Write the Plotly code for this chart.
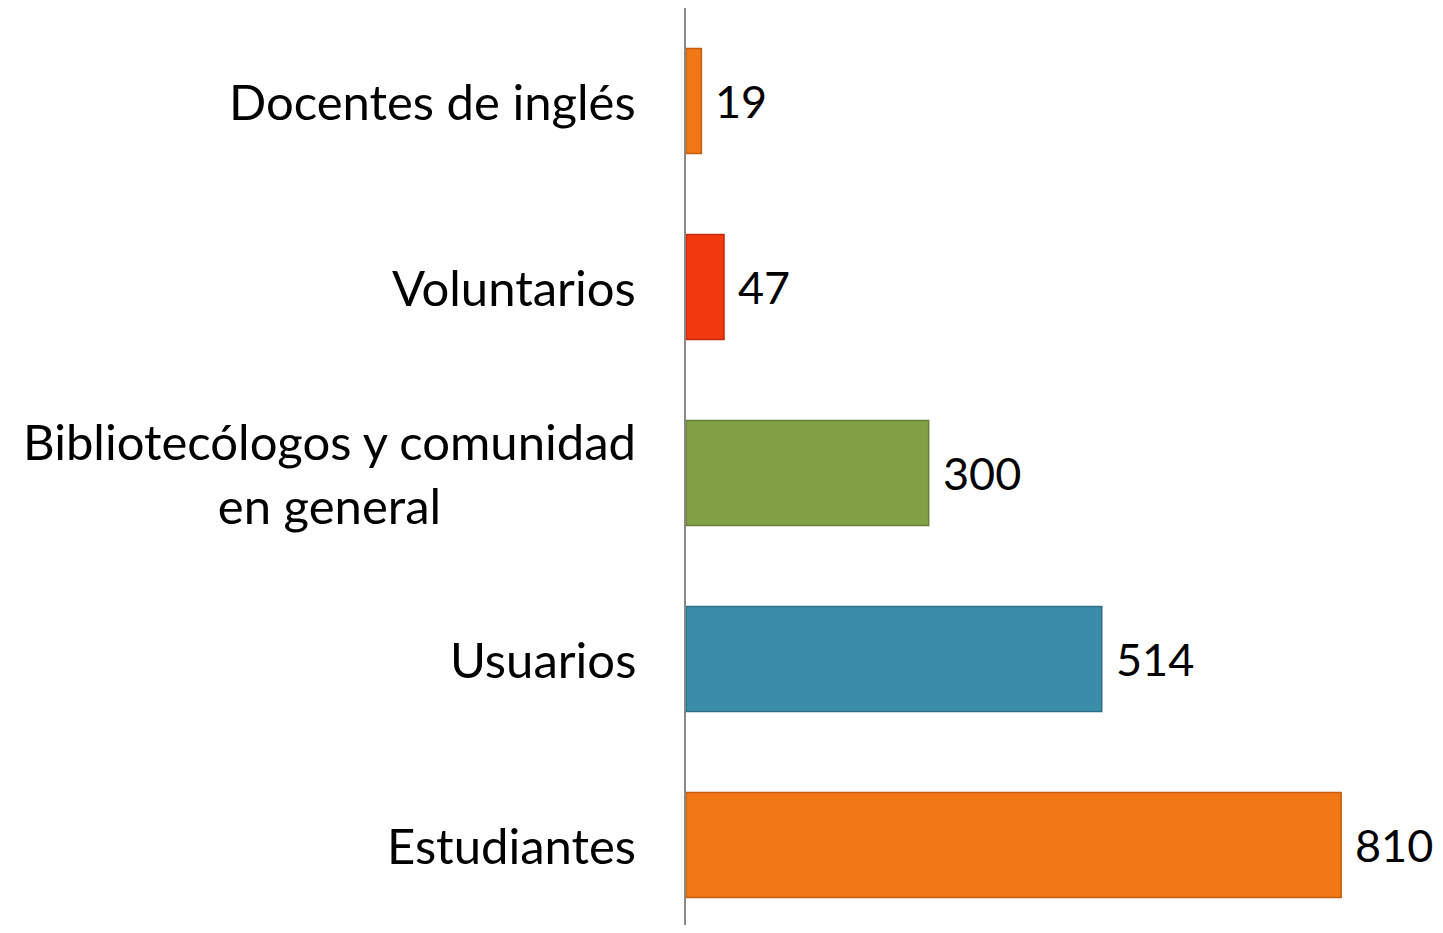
import plotly.graph_objects as go

categories = ["Estudiantes", "Usuarios", "Bibliotecólogos y comunidad<br>en general", "Voluntarios", "Docentes de inglés"]
values = [810, 514, 300, 47, 19]
colors = ["#F27716", "#3A8CA8", "#82A045", "#F2380E", "#F27716"]
edge_colors = ["#C45E0E", "#2C6F86", "#66803A", "#C22A08", "#C45E0E"]

FONT = "Lato, Calibri, Carlito, sans-serif"

fig = go.Figure()
fig.add_trace(go.Bar(
    y=list(range(len(categories))),
    x=values,
    orientation="h",
    marker=dict(color=colors, line=dict(color=edge_colors, width=1.5)),
    width=0.565,
    hoverinfo="skip",
))

annotations = []
for i, (c, v) in enumerate(zip(categories, values)):
    annotations.append(dict(
        x=0, y=i, xref="x", yref="y", text=c, showarrow=False,
        xanchor="right", yanchor="middle", align="center", xshift=-48,
        font=dict(family=FONT, size=49, color="#000000"),
    ))
    annotations.append(dict(
        x=v, y=i, xref="x", yref="y", text=str(v), showarrow=False,
        xanchor="left", yanchor="middle", xshift=12,
        font=dict(family=FONT, size=45, color="#000000"),
    ))

fig.update_layout(
    width=1427, height=917,
    margin=dict(l=678, r=0, t=0, b=0),
    paper_bgcolor="white", plot_bgcolor="white",
    showlegend=False,
    xaxis=dict(range=[0, 926], visible=False, fixedrange=True),
    yaxis=dict(range=[-0.430, 4.5], showticklabels=False, showgrid=False, zeroline=False,
               showline=True, linecolor="#888888", linewidth=1.5, ticks=""),
    annotations=annotations,
)

fig.write_html("out.html")
